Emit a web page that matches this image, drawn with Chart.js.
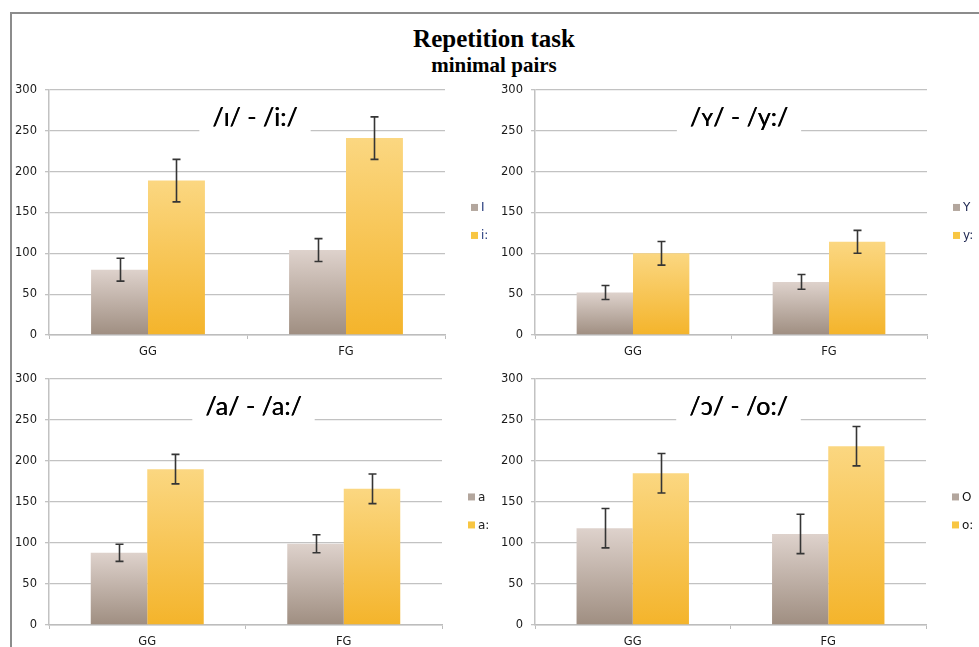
<!DOCTYPE html>
<html>
<head>
<meta charset="utf-8">
<title>Repetition task - minimal pairs</title>
<script src="https://cdn.jsdelivr.net/npm/chart.js@4.4.1/dist/chart.umd.min.js"></script>
<style>
  body { margin: 0; background: #fff; }
  #page { position: relative; width: 979px; height: 647px; overflow: hidden; background: #fff; }
  .frame-top { position: absolute; left: 10px; top: 12px; width: 975px; border-top: 2px solid #8c8c8c; }
  .frame-left { position: absolute; left: 10px; top: 12px; height: 640px; border-left: 2px solid #8c8c8c; }
  .title { position: absolute; left: 0; width: 988px; text-align: center; color: #000;
           font-family: "Liberation Serif", "Times New Roman", serif; font-weight: bold; line-height: 1; }
  canvas { position: absolute; }
</style>
</head>
<body>
<div id="page">
  <div class="frame-top"></div>
  <div class="frame-left"></div>
  <div class="title" style="top:26px;font-size:25px;">Repetition task</div>
  <div class="title" style="top:55px;font-size:21px;">minimal pairs</div>
  <canvas id="chartI" width="490" height="284" style="left:0;top:75px;"></canvas>
  <canvas id="chartY" width="493" height="284" style="left:486px;top:75px;"></canvas>
  <canvas id="chartA" width="490" height="285" style="left:0;top:364px;"></canvas>
  <canvas id="chartO" width="493" height="285" style="left:486px;top:364px;"></canvas>
</div>
<script>
// data (means and error bar half-lengths)
const groups = ["GG", "FG"];
const yMax = 300;
const yStep = 50;

const shortIMeans = [80, 104];
const shortIErr = [14, 14];
const longIMeans = [189, 241];
const longIErr = [26, 26];

const shortYMeans = [52, 65];
const shortYErr = [8.5, 9];
const longYMeans = [100, 114];
const longYErr = [14.5, 14];

const shortAMeans = [88, 99];
const shortAErr = [10.5, 11];
const longAMeans = [190, 166];
const longAErr = [18, 18];

const shortOMeans = [118, 111];
const shortOErr = [24, 24];
const longOMeans = [185, 218];
const longOErr = [24, 24];

const panelTitles = ["/ɪ/ - /i:/", "/ʏ/ - /y:/", "/a/ - /a:/", "/ɔ/ - /o:/"];
const shortLabels = ["I", "Y", "a", "O"];
const longLabels = ["i:", "y:", "a:", "o:"];

const greyTop = "#ded2cc", greyBottom = "#9f8e81", greySwatch = "#b3a69d";
const goldTop = "#fbd781", goldBottom = "#f4b42b", goldSwatch = "#f8c642";
const tickFont = { family: "DejaVu Sans", size: 11.5 };

//degradado por barra, de arriba hacia la base
function barFill(top, bottom) {
  return function (ctx) {
    const chart = ctx.chart;
    const y = chart.scales && chart.scales.y;
    if (!y || typeof ctx.raw !== "number") return bottom;
    const yTop = y.getPixelForValue(ctx.raw);
    const yBase = y.getPixelForValue(0);
    if (!isFinite(yTop) || !isFinite(yBase) || yTop === yBase) return bottom;
    const g = chart.ctx.createLinearGradient(0, yTop, 0, yBase);
    g.addColorStop(0, top);
    g.addColorStop(1, bottom);
    return g;
  };
}

//barras de error
const errorBars = {
  id: "errorBars",
  afterDatasetsDraw(chart) {
    const ctx = chart.ctx;
    const y = chart.scales.y;
    ctx.save();
    ctx.strokeStyle = "#353535";
    ctx.lineWidth = 1.6;
    chart.data.datasets.forEach((ds, i) => {
      const meta = chart.getDatasetMeta(i);
      meta.data.forEach((bar, j) => {
        const hi = y.getPixelForValue(ds.data[j] + ds.errors[j]);
        const lo = y.getPixelForValue(ds.data[j] - ds.errors[j]);
        const x = Math.round(bar.x) + 0.5;
        ctx.beginPath();
        ctx.moveTo(x, hi); ctx.lineTo(x, lo);
        ctx.moveTo(x - 4, hi); ctx.lineTo(x + 4, hi);
        ctx.moveTo(x - 4, lo); ctx.lineTo(x + 4, lo);
        ctx.stroke();
      });
    });
    ctx.restore();
  }
};

//título dentro del área y leyenda a la derecha
const panelDecor = {
  id: "panelDecor",
  afterDraw(chart, args, opts) {
    const ctx = chart.ctx;
    const area = chart.chartArea;
    ctx.save();
    ctx.font = '25px Lato, "Noto Sans", sans-serif';
    ctx.textAlign = "center";
    ctx.textBaseline = "middle";
    const cx = (area.left + area.right) / 2 + 8;
    const cy = area.top + 28;
    const w = ctx.measureText(opts.text).width + 26;
    ctx.fillStyle = "#fff";
    ctx.fillRect(cx - w / 2, cy - 16, w, 32);
    ctx.fillStyle = "#000";
    ctx.fillText(opts.text, cx, cy);
    ctx.fillText(opts.text, cx + 0.4, cy);

    ctx.font = '12px "DejaVu Sans", sans-serif';
    ctx.textAlign = "left";
    const lx = area.right + 26;
    const ly = (area.top + area.bottom) / 2 + 9;
    chart.data.datasets.forEach((ds, i) => {
      const yy = ly + (i - 0.5) * 28;
      ctx.fillStyle = ds.swatch;
      ctx.fillRect(lx, yy - 3.5, 7, 7);
      ctx.fillStyle = opts.legendColor;
      ctx.fillText(ds.label, lx + 10, yy + 0.5);
    });
    ctx.restore();
  }
};

function makePanel(id, title, shortLabel, shortMeans, shortErr, longLabel, longMeans, longErr, rightPad, legendColor) {
  return new Chart(document.getElementById(id), {
    type: "bar",
    data: {
      labels: groups,
      datasets: [
        { label: shortLabel, data: shortMeans, errors: shortErr, swatch: greySwatch,
          backgroundColor: barFill(greyTop, greyBottom) },
        { label: longLabel, data: longMeans, errors: longErr, swatch: goldSwatch,
          backgroundColor: barFill(goldTop, goldBottom) }
      ]
    },
    options: {
      responsive: false,
      animation: false,
      events: [],
      layout: { padding: { left: 10, top: 12, right: rightPad, bottom: 0 } },
      datasets: { bar: { categoryPercentage: 0.575, barPercentage: 1 } },
      plugins: {
        legend: { display: false },
        tooltip: { enabled: false },
        panelDecor: { text: title, legendColor: legendColor }
      },
      scales: {
        x: {
          afterFit(scale) { scale.height = 24; },
          grid: { display: true, drawOnChartArea: false, drawTicks: true, tickLength: 4, color: "#bdbdbd", offset: true },
          border: { color: "#bdbdbd", width: 1.5 },
          ticks: { color: "#1a1a1a", padding: 6, font: tickFont }
        },
        y: {
          min: 0,
          max: yMax,
          afterFit(scale) { scale.width = 39; },
          grid: { color: "#c2c2c2", lineWidth: 1.3, tickLength: 4 },
          border: { color: "#c2c2c2", width: 1.5 },
          ticks: { stepSize: yStep, color: "#1a1a1a", padding: 8, font: tickFont }
        }
      }
    },
    plugins: [errorBars, panelDecor]
  });
}

makePanel("chartI", panelTitles[0], shortLabels[0], shortIMeans, shortIErr, longLabels[0], longIMeans, longIErr, 45, "#23387a");
makePanel("chartY", panelTitles[1], shortLabels[1], shortYMeans, shortYErr, longLabels[1], longYMeans, longYErr, 52, "#1c2550");
makePanel("chartA", panelTitles[2], shortLabels[2], shortAMeans, shortAErr, longLabels[2], longAMeans, longAErr, 48, "#222");
makePanel("chartO", panelTitles[3], shortLabels[3], shortOMeans, shortOErr, longLabels[3], longOMeans, longOErr, 53, "#111");
</script>
</body>
</html>
